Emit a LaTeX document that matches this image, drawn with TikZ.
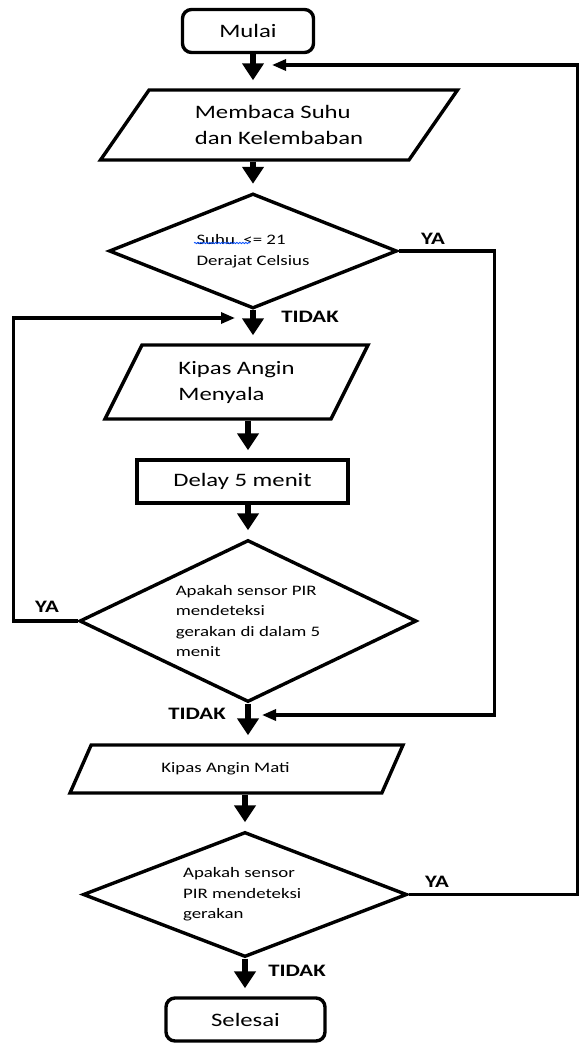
\documentclass[tikz,border=0pt]{standalone}
\usepackage{fontspec}
\newfontfamily\flowfont[FakeStretch=1.3]{Carlito}
\usepackage{tikz}
\usetikzlibrary{
    arrows.meta,
    shapes.geometric,
    decorations.pathmorphing
}
\newcommand{\bigtext}{\flowfont\fontsize{19}{26}\selectfont}
\newcommand{\smalltext}{\flowfont\fontsize{14.5}{20.5}\selectfont}
\newcommand{\answertext}{\flowfont\bfseries\fontsize{17.5}{20}\selectfont}

\begin{document}
\begin{tikzpicture}[x=1pt, y=-1pt,
    terminal/.style={draw, line width=3.4pt, rounded corners=9pt, minimum height=43pt, inner sep=0pt, font=\bigtext},
    process/.style={draw, line width=3.4pt, minimum height=43pt, inner sep=0pt, font=\bigtext},
    iobox/.style={draw, line width=3.4pt, trapezium, trapezium stretches body, inner sep=0pt, align=left},
    decision/.style={draw, line width=3.4pt, diamond, shape aspect=2.5, inner sep=0pt, align=left, font=\smalltext},
    answer/.style={font=\answertext},
    flowarrow/.style={-{Triangle[length=17pt,width=21pt]}, line width=5.5pt, shorten >=8pt},
    backline/.style={-{Triangle[length=14pt,width=11pt]}, line width=3.2pt}
]
    \useasboundingbox (0,0) rectangle (582,1043);

    % Start and input
    \node[terminal, minimum width=131pt] (mulai) at (248,31) {Mulai};
    \node[iobox, font=\bigtext, trapezium left angle=39, trapezium right angle=141,
          minimum width=357pt, minimum height=70pt] (membaca) at (279,125)
          {Membaca Suhu\\dan Kelembaban};

    % First check
    \node[decision, minimum width=288pt, minimum height=115pt] (suhu) at (253,251)
          {Suhu~~<= 21\\Derajat Celsius};
    \draw[blue!70!cyan, line width=0.8pt, decorate,
          decoration={snake, amplitude=0.7pt, segment length=3pt}] (194,243) -- (250,243);

    % Fan on, wait, check motion
    \node[iobox, font=\bigtext, trapezium left angle=48.7, trapezium right angle=131.3,
          minimum width=263pt, minimum height=74pt] (kipason) at (236.5,382)
          {Kipas Angin\\Menyala};
    \node[process, minimum width=211pt] (delay) at (242.5,481.5) {Delay 5 menit};
    \node[decision, minimum width=337pt, minimum height=162pt] (pir1) at (248,621)
          {Apakah sensor PIR\\mendeteksi\\gerakan di dalam 5\\menit};

    % Fan off, final check, end
    \node[iobox, font=\smalltext, trapezium left angle=30.6, trapezium right angle=149.4,
          minimum width=333pt, minimum height=48pt] (kipasoff) at (236.5,769)
          {Kipas Angin Mati\hspace*{22pt}};
    \node[decision, minimum width=324pt, minimum height=125pt] (pir2) at (245,894.5)
          {Apakah sensor\hspace*{12pt}\\PIR mendeteksi\\gerakan};
    \node[terminal, minimum width=159pt] (selesai) at (245.5,1019.5) {Selesai};

    % Main flow
    \draw[flowarrow] (mulai.south -| suhu.north) -- (membaca.north -| suhu.north);
    \draw[flowarrow] (membaca.south -| suhu.north) -- (suhu.north);
    \draw[flowarrow] (suhu.south) -- (suhu.south |- kipason.north);
    \draw[flowarrow] (kipason.south -| pir1.north) -- (delay.north -| pir1.north);
    \draw[flowarrow] (delay.south -| pir1.north) -- (pir1.north);
    \draw[flowarrow] (pir1.south) -- (pir1.south |- kipasoff.north);
    \draw[flowarrow] (kipasoff.south -| pir2.north) -- (pir2.north);
    \draw[flowarrow] (pir2.south) -- (pir2.south |- selesai.north);

    % Return lines
    \coordinate (m0) at (272,65);
    \coordinate (m1) at (235,318);
    \coordinate (m2) at (262,715);
    \draw[backline] (suhu.east) -- ++(96,0) |- (m2);
    \draw[backline] (pir1.west) -- ++(-64,0) |- (m1);
    \draw[backline] (pir2.east) -- ++(169,0) |- (m0);

    % Branch labels
    \node[answer] (ya1) at (433,239) {YA};
    \node[answer] (tidak1) at (310,317) {TIDAK};
    \node[answer] (ya2) at (47,607) {YA};
    \node[answer] (tidak2) at (197,714) {TIDAK};
    \node[answer] (ya3) at (437,882) {YA};
    \node[answer] (tidak3) at (297,971) {TIDAK};
\end{tikzpicture}
\end{document}
